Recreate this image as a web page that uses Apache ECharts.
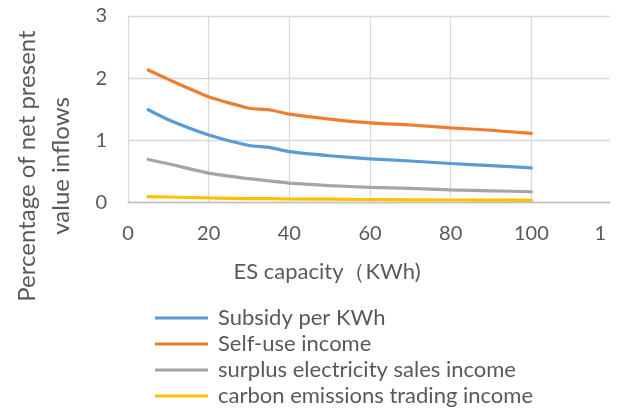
<!DOCTYPE html>
<html>
<head>
<meta charset="utf-8">
<script src="https://cdn.jsdelivr.net/npm/echarts@6/dist/echarts.min.js"></script>
<style>
  html, body { margin: 0; padding: 0; background: #ffffff; overflow: hidden; }
  #chart { width: 610px; height: 420px; }
</style>
</head>
<body>
<div id="chart"></div>
<script>
// ES capacity (KWh) at which each income share was evaluated
const capacity = [5, 10, 20, 30, 35, 40, 50, 60, 70, 80, 90, 100];

// Percentage of net present value inflows, by income source
const subsidyPerKWh = [1.49, 1.33, 1.085, 0.915, 0.885, 0.815, 0.75, 0.70, 0.665, 0.625, 0.59, 0.555];
const selfUseIncome = [2.13, 1.98, 1.70, 1.515, 1.49, 1.42, 1.34, 1.28, 1.245, 1.20, 1.16, 1.11];
const surplusSalesIncome = [0.69, 0.62, 0.47, 0.38, 0.345, 0.31, 0.27, 0.24, 0.225, 0.20, 0.185, 0.17];
const carbonTradingIncome = [0.09, 0.085, 0.07, 0.06, 0.058, 0.053, 0.05, 0.045, 0.04, 0.037, 0.035, 0.032];

const seriesNames = [
  'Subsidy per KWh',
  'Self-use income',
  'surplus electricity sales income',
  'carbon emissions trading income'
];
const seriesValues = [subsidyPerKWh, selfUseIncome, surplusSalesIncome, carbonTradingIncome];
const seriesColors = ['#5B9BD5', '#ED7D31', '#A5A5A5', '#FFC000'];

const FONT = 'Lato';
const TEXT = '#595959';

const chart = echarts.init(document.getElementById('chart'), null, { renderer: 'canvas' });

chart.setOption({
  animation: false,
  backgroundColor: '#ffffff',
  textStyle: { fontFamily: FONT, color: TEXT },
  grid: {
    left: 128, top: 16, width: 484, height: 186.3,
    containLabel: false,
    outerBoundsMode: 'none'
  },
  xAxis: {
    type: 'value',
    min: 0, max: 120, interval: 20,
    axisLine: { show: true, lineStyle: { color: '#BFBFBF', width: 1.3 } },
    axisTick: { show: false },
    axisLabel: { color: TEXT, fontSize: 20, fontFamily: FONT, margin: 21 },
    splitLine: { show: true, lineStyle: { color: '#D9D9D9', width: 1.3 } }
  },
  yAxis: {
    type: 'value',
    min: 0, max: 3, interval: 1,
    axisLine: { show: false },
    axisTick: { show: false },
    axisLabel: { color: TEXT, fontSize: 20, fontFamily: FONT, margin: 21 },
    splitLine: { show: true, lineStyle: { color: '#D9D9D9', width: 1.3 } }
  },
  legend: {
    orient: 'vertical',
    left: 155,
    top: 307,
    padding: 0,
    itemWidth: 53,
    itemHeight: 3.2,
    itemGap: 4,
    icon: 'rect',
    data: seriesNames,
    textStyle: { color: TEXT, fontSize: 22, fontFamily: FONT, padding: [0, 0, 0, 5] }
  },
  graphic: [
    {
      // edge of the drawing area: the last tick label is cut off here
      type: 'rect',
      shape: { x: 605, y: 212, width: 10, height: 40 },
      style: { fill: '#ffffff' },
      z: 100
    },
    {
      type: 'text',
      x: 327, y: 272,
      style: {
        text: 'ES capacity（KWh)',
        fill: TEXT, font: '22px ' + FONT,
        align: 'center', verticalAlign: 'middle'
      }
    },
    {
      type: 'text',
      x: 27, y: 166, rotation: Math.PI / 2,
      style: {
        text: 'Percentage of net present',
        fill: TEXT, font: '24px ' + FONT,
        align: 'center', verticalAlign: 'middle'
      }
    },
    {
      type: 'text',
      x: 61, y: 166, rotation: Math.PI / 2,
      style: {
        text: 'value inflows',
        fill: TEXT, font: '24px ' + FONT,
        align: 'center', verticalAlign: 'middle'
      }
    }
  ],
  series: seriesNames.map((name, i) => ({
    name,
    type: 'line',
    data: capacity.map((c, j) => [c, seriesValues[i][j]]),
    smooth: 0.2,
    showSymbol: false,
    symbol: 'none',
    lineStyle: { color: seriesColors[i], width: 3.2, cap: 'round' },
    itemStyle: { color: seriesColors[i] }
  }))
});
</script>
</body>
</html>
